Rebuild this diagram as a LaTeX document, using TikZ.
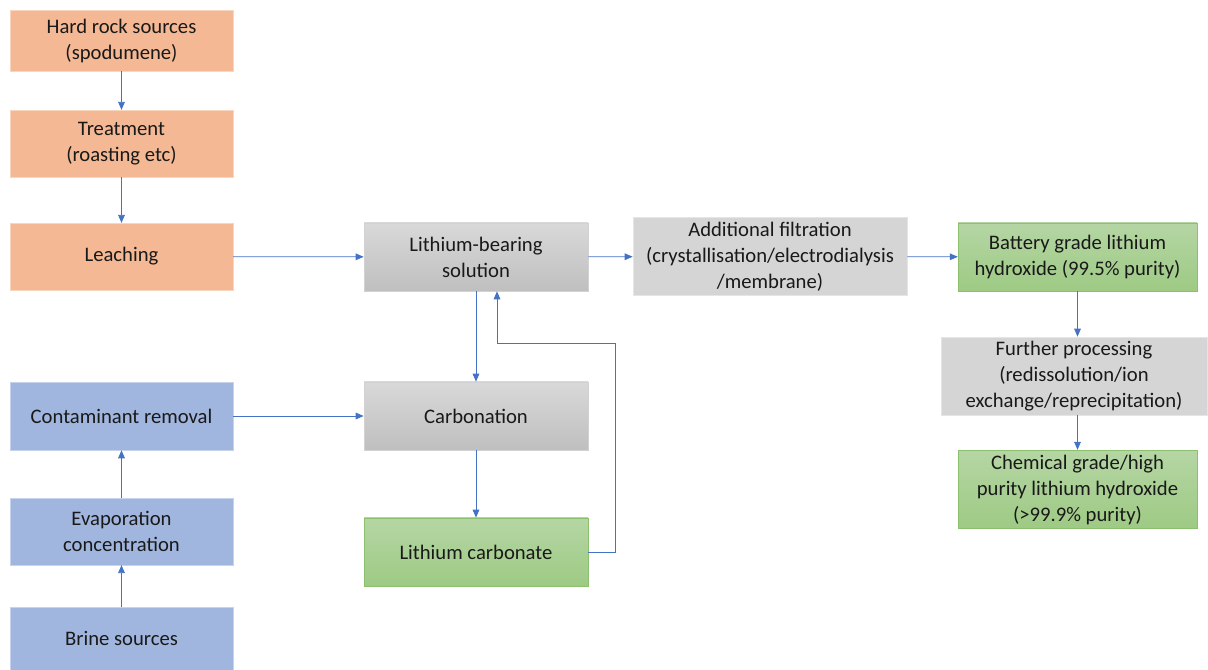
\documentclass[tikz,border=0pt]{standalone}
\usepackage{fontspec}
\setmainfont{Carlito}
\usetikzlibrary{arrows.meta}
\definecolor{rock}{HTML}{F4B994}
\definecolor{brine}{HTML}{A1B6DF}
\definecolor{lnk}{HTML}{4472C4}
\definecolor{grtop}{HTML}{B5D6A4}
\definecolor{grbot}{HTML}{9ECA84}
\definecolor{grline}{HTML}{8CBF6E}
\tikzset{bx/.style={rectangle,inner sep=0pt,align=center,text=black!90,
          font=\fontsize{15.5}{19.5}\selectfont},
         rk/.style={bx,fill=rock,draw=rock!60,line width=0.4pt},
         bl/.style={bx,fill=brine,draw=brine!60,line width=0.4pt},
         gy/.style={bx,top color=gray!30,bottom color=gray!50,draw=gray!35,line width=0.5pt},
         gr/.style={bx,top color=grtop,bottom color=grbot,draw=grline,line width=0.5pt},
         fl/.style={bx,fill=gray!33,draw=gray!20,line width=0.5pt},
         arr/.style={draw=lnk,line width=0.6pt,-{Triangle[length=6pt,width=5pt]}}}

\begin{document}
\begin{tikzpicture}[x=0.75pt,y=-0.75pt]
\useasboundingbox (0,0) rectangle (1208,670);
% hard rock route
\node[rk,minimum width=167pt,minimum height=46pt] (hard) at (121.5,40.5) {Hard rock sources\\(spodumene)};
\node[rk,minimum width=167pt,minimum height=50pt] (treat) at (121.5,143.5) {Treatment\\(roasting etc)};
\node[rk,minimum width=167pt,minimum height=50pt] (leach) at (121.5,256.5) {Leaching};
% brine route
\node[bl,minimum width=167pt,minimum height=51pt] (contam) at (121.5,416) {Contaminant removal};
\node[bl,minimum width=167pt,minimum height=50pt] (evap) at (121.5,531.5) {Evaporation\\concentration};
\node[bl,minimum width=167pt,minimum height=47pt] (brine) at (121.5,638.5) {Brine sources};
% middle
\node[gy,minimum width=168pt,minimum height=51pt] (lbs) at (476,257) {Lithium-bearing\\solution};
\node[gy,minimum width=168pt,minimum height=51pt] (carb) at (476,416) {Carbonation};
\node[gr,minimum width=168pt,minimum height=51pt] (lc) at (476,552) {Lithium carbonate};
\node[fl,minimum width=205.5pt,minimum height=59pt] (filt) at (770,256.5) {Additional filtration\\(crystallisation/electrodialysis\\/membrane)};
% hydroxide
\node[gr,minimum width=179pt,minimum height=51pt] (bat) at (1077.5,257) {Battery grade lithium\\hydroxide (99.5\% purity)};
\node[fl,minimum width=199.5pt,minimum height=58.5pt] (fur) at (1074,376) {Further processing\\(redissolution/ion\\exchange/reprecipitation)};
\node[gr,minimum width=179pt,minimum height=59pt] (chem) at (1077.5,489.5) {Chemical grade/high\\purity lithium hydroxide\\(>99.9\% purity)};

\coordinate (r1) at (615,343);
\coordinate (r2) at (497,343);
\draw[arr] (hard) -- (treat);
\draw[arr] (treat) -- (leach);
\draw[arr] (leach) -- (lbs);
\draw[arr] (brine) -- (evap);
\draw[arr] (evap) -- (contam);
\draw[arr] (contam) -- (carb);
\draw[arr] (lbs) -- (carb);
\draw[arr] (carb) -- (lc);
\draw[arr] (lc.east) -| (r1) -- (r2) -- (r2 |- lbs.south);
\draw[arr] (lbs) -- (filt);
\draw[arr] (filt) -- (bat);
\draw[arr] (bat.south) -- (bat.south |- fur.north);
\draw[arr] (fur.south -| chem) -- (chem.north);
\end{tikzpicture}
\end{document}
